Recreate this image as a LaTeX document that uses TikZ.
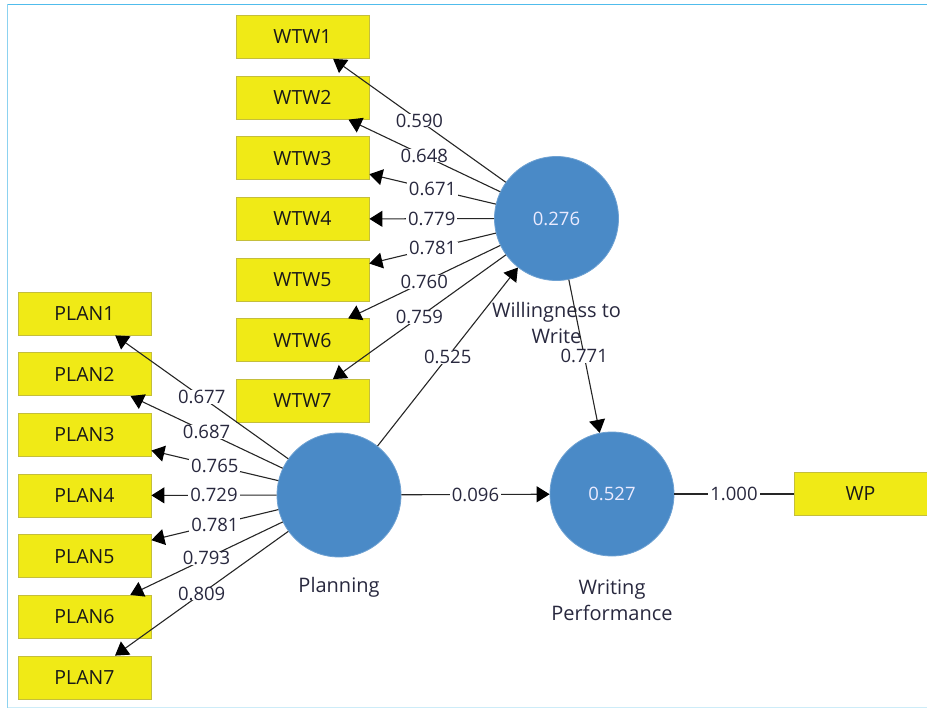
\documentclass[tikz,border=0pt]{standalone}
\usepackage{fontspec}
\setmainfont{Open Sans}
\usetikzlibrary{arrows.meta}
\definecolor{boxfill}{RGB}{240,234,22}
\definecolor{boxline}{RGB}{196,190,60}
\definecolor{lvfill}{RGB}{74,138,199}
\definecolor{frametop}{RGB}{80,188,236}
\definecolor{frameside}{RGB}{140,210,240}
\definecolor{framebot}{RGB}{205,236,248}
\definecolor{numtext}{RGB}{40,40,62}
\begin{document}
\begin{tikzpicture}[x=1pt,y=-1pt,
  boxtxt/.style={font=\fontsize{19.5}{25}\selectfont},
  numtxt/.style={font=\fontsize{18.5}{25}\selectfont},
  captxt/.style={font=\fontsize{20}{26}\selectfont},
  indicator/.style={boxtxt, draw=boxline, fill=boxfill, line width=0.8pt,
    minimum width=133pt, minimum height=43pt, inner sep=0pt, text=black!90},
  latent/.style={numtxt, circle, fill=lvfill, draw=lvfill!80!white, line width=0.8pt,
    minimum size=124pt, inner sep=0pt, text=white!92!blue},
  link/.style={draw=black!85, line width=1.1pt},
  arrowed/.style={link, -{Triangle[length=13pt,width=16pt,color=black]}},
  coef/.style={numtxt, fill=white, inner xsep=2pt, inner ysep=0pt, text=numtext},
  caption/.style={captxt, align=center, text=numtext}]

% canvas and frame
\path[use as bounding box] (0,0) rectangle (927,709);
\draw[frametop, line width=1.6pt] (927,4.5) -- (7.5,4.5);
\draw[frameside, line width=1.4pt] (7.5,4.5) -- (7.5,707.5);
\draw[framebot, line width=1.4pt] (7.5,707.5) -- (927,707.5);

% latent variables
\node[latent] (plan) at (339,495) {};
\node[latent] (wtw) at (556.5,218.5) {0.276};
\node[latent] (wp) at (612,494) {0.527};
\node[caption] (planlbl) at (339,587) {Planning};
\node[caption] (wtwlbl) at (556.5,323) {Willingness to\\Write};
\node[caption] (wplbl) at (612,600) {Writing\\Performance};

% indicators of Willingness to Write
\foreach \i/\y in {1/37,2/97.7,3/158.3,4/219,5/279.7,6/340.3,7/401}
  \node[indicator] (w\i) at (302.5,\y) {WTW\i};
% indicators of Planning
\foreach \i/\y in {1/313.5,2/374.2,3/434.8,4/495.5,5/556.2,6/616.8,7/677.5}
  \node[indicator] (p\i) at (84.5,\y) {PLAN\i};
% indicator of Writing Performance
\node[indicator] (wpi) at (860.5,494) {WP};

% outer loadings
\foreach \i/\v in {1/0.590,2/0.648,3/0.671,4/0.779,5/0.781,6/0.760,7/0.759}
  \draw[arrowed] (wtw) -- node[coef] {\v} (w\i);
\foreach \i/\v in {1/0.677,2/0.687,3/0.765,4/0.729,5/0.781,6/0.793,7/0.809}
  \draw[arrowed] (plan) -- node[coef] {\v} (p\i);
\draw[link] (wp) -- node[coef] {1.000} (wpi);

% path coefficients
\draw[arrowed] (plan) -- node[coef] {0.525} (wtw);
\draw[arrowed] (plan) -- node[coef] {0.096} (wp);
\draw[arrowed] (wtw) -- node[coef] {0.771} (wp);
\end{tikzpicture}
\end{document}
